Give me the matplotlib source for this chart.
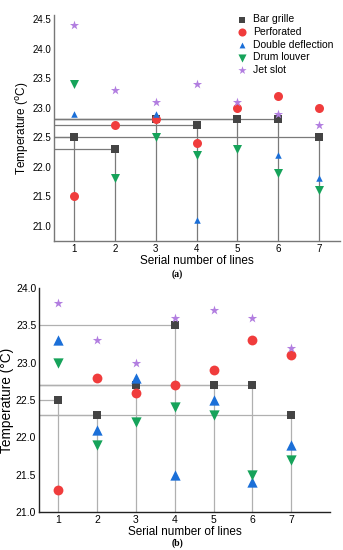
import matplotlib
matplotlib.use('Agg')
import matplotlib.pyplot as plt
import numpy as np

plt.rcParams['font.family'] = ['Liberation Sans', 'DejaVu Sans']

lines = [1, 2, 3, 4, 5, 6, 7]
names = ['Bar grille', 'Perforated', 'Double deflection', 'Drum louver', 'Jet slot']

# panel (a)  (nan = point not visible in the figure)
bar_a = [22.5, 22.3, 22.8, 22.7, 22.8, 22.8, 22.5]
perf_a = [21.5, 22.7, 22.8, 22.4, 23.0, 23.2, 23.0]
dd_a = [22.9, np.nan, 22.9, 21.1, np.nan, 22.2, 21.8]
drum_a = [23.4, 21.8, 22.5, 22.2, 22.3, 21.9, 21.6]
jet_a = [24.4, 23.3, 23.1, 23.4, 23.1, 22.9, 22.7]

# panel (b)
bar_b = [22.5, 22.3, 22.7, 23.5, 22.7, 22.7, 22.3]
perf_b = [21.3, 22.8, 22.6, 22.7, 22.9, 23.3, 23.1]
dd_b = [23.3, 22.1, 22.8, 21.5, 22.5, 21.4, 21.9]
drum_b = [23.0, 21.9, 22.2, 22.4, 22.3, 21.5, 21.7]
jet_b = [23.8, 23.3, 23.0, 23.6, 23.7, 23.6, 23.2]

colors = ['#444444', '#f03c3c', '#1b6fd8', '#16a35a', '#b27ee0']
markers = ['s', 'o', '^', 'v', '*']

fig = plt.figure(figsize=(3.43, 5.5), dpi=100)
ax1 = fig.add_axes([0.1574, 0.5618, 0.834, 0.411])
ax2 = fig.add_axes([0.1137, 0.0691, 0.848, 0.4073])


def panel(ax, series, xlim, ylim, sizes, linecol, spinecol, fs):
    ax.set_xlim(*xlim)
    ax.set_ylim(*ylim)
    bar = series[0]
    for x, v in zip(lines, bar):
        ax.vlines(x, ylim[0], v, color=linecol, lw=0.9, zorder=1)
        ax.hlines(v, xlim[0], x, color=linecol, lw=0.9, zorder=1)
    for i, s in enumerate(series):
        ax.scatter(lines, s, marker=markers[i], color=colors[i], s=sizes[i],
                   linewidths=0, label=names[i], zorder=3 + i)
    for side in ['top', 'right']:
        ax.spines[side].set_visible(False)
    for side in ['left', 'bottom']:
        ax.spines[side].set_color(spinecol)
        ax.spines[side].set_linewidth(1.0)
    ax.set_xticks(lines)
    ax.tick_params(length=0, labelsize=fs, pad=2)
    ax.set_xlabel('Serial number of lines', fontsize=8.5, labelpad=1)


panel(ax1, [bar_a, perf_a, dd_a, drum_a, jet_a], (0.5, 7.52), (20.74, 24.57),
      [30, 42, 22, 42, 48], '#7a7a7a', '#777777', 7)
ax1.set_yticks([21.0, 21.5, 22.0, 22.5, 23.0, 23.5, 24.0, 24.5])
ax1.set_ylabel('Temperature ($^{\\mathrm{o}}$C)', fontsize=8.5, labelpad=1)
ax1.legend(loc='upper right', bbox_to_anchor=(1.0, 1.03), frameon=False, fontsize=7.5,
           handletextpad=0.5, labelspacing=0.25, borderpad=0.1, handlelength=1.2,
           markerscale=0.9)

panel(ax2, [bar_b, perf_b, dd_b, drum_b, jet_b], (0.5, 8.0), (21.0, 24.0),
      [38, 50, 55, 55, 50], '#b0b0b0', '#222222', 7.5)
ax2.set_yticks([21.0, 21.5, 22.0, 22.5, 23.0, 23.5, 24.0])
ax2.set_ylabel('Temperature (\u00b0C)', fontsize=9.8, labelpad=1)

fig.text(177 / 343, 1 - 274 / 550, '(a)', ha='center', va='center', fontsize=7,
         family=['Liberation Serif'], fontweight='bold')
fig.text(177 / 343, 1 - 543 / 550, '(b)', ha='center', va='center', fontsize=7,
         family=['Liberation Serif'], fontweight='bold')

fig.savefig('out.png', dpi=100)
